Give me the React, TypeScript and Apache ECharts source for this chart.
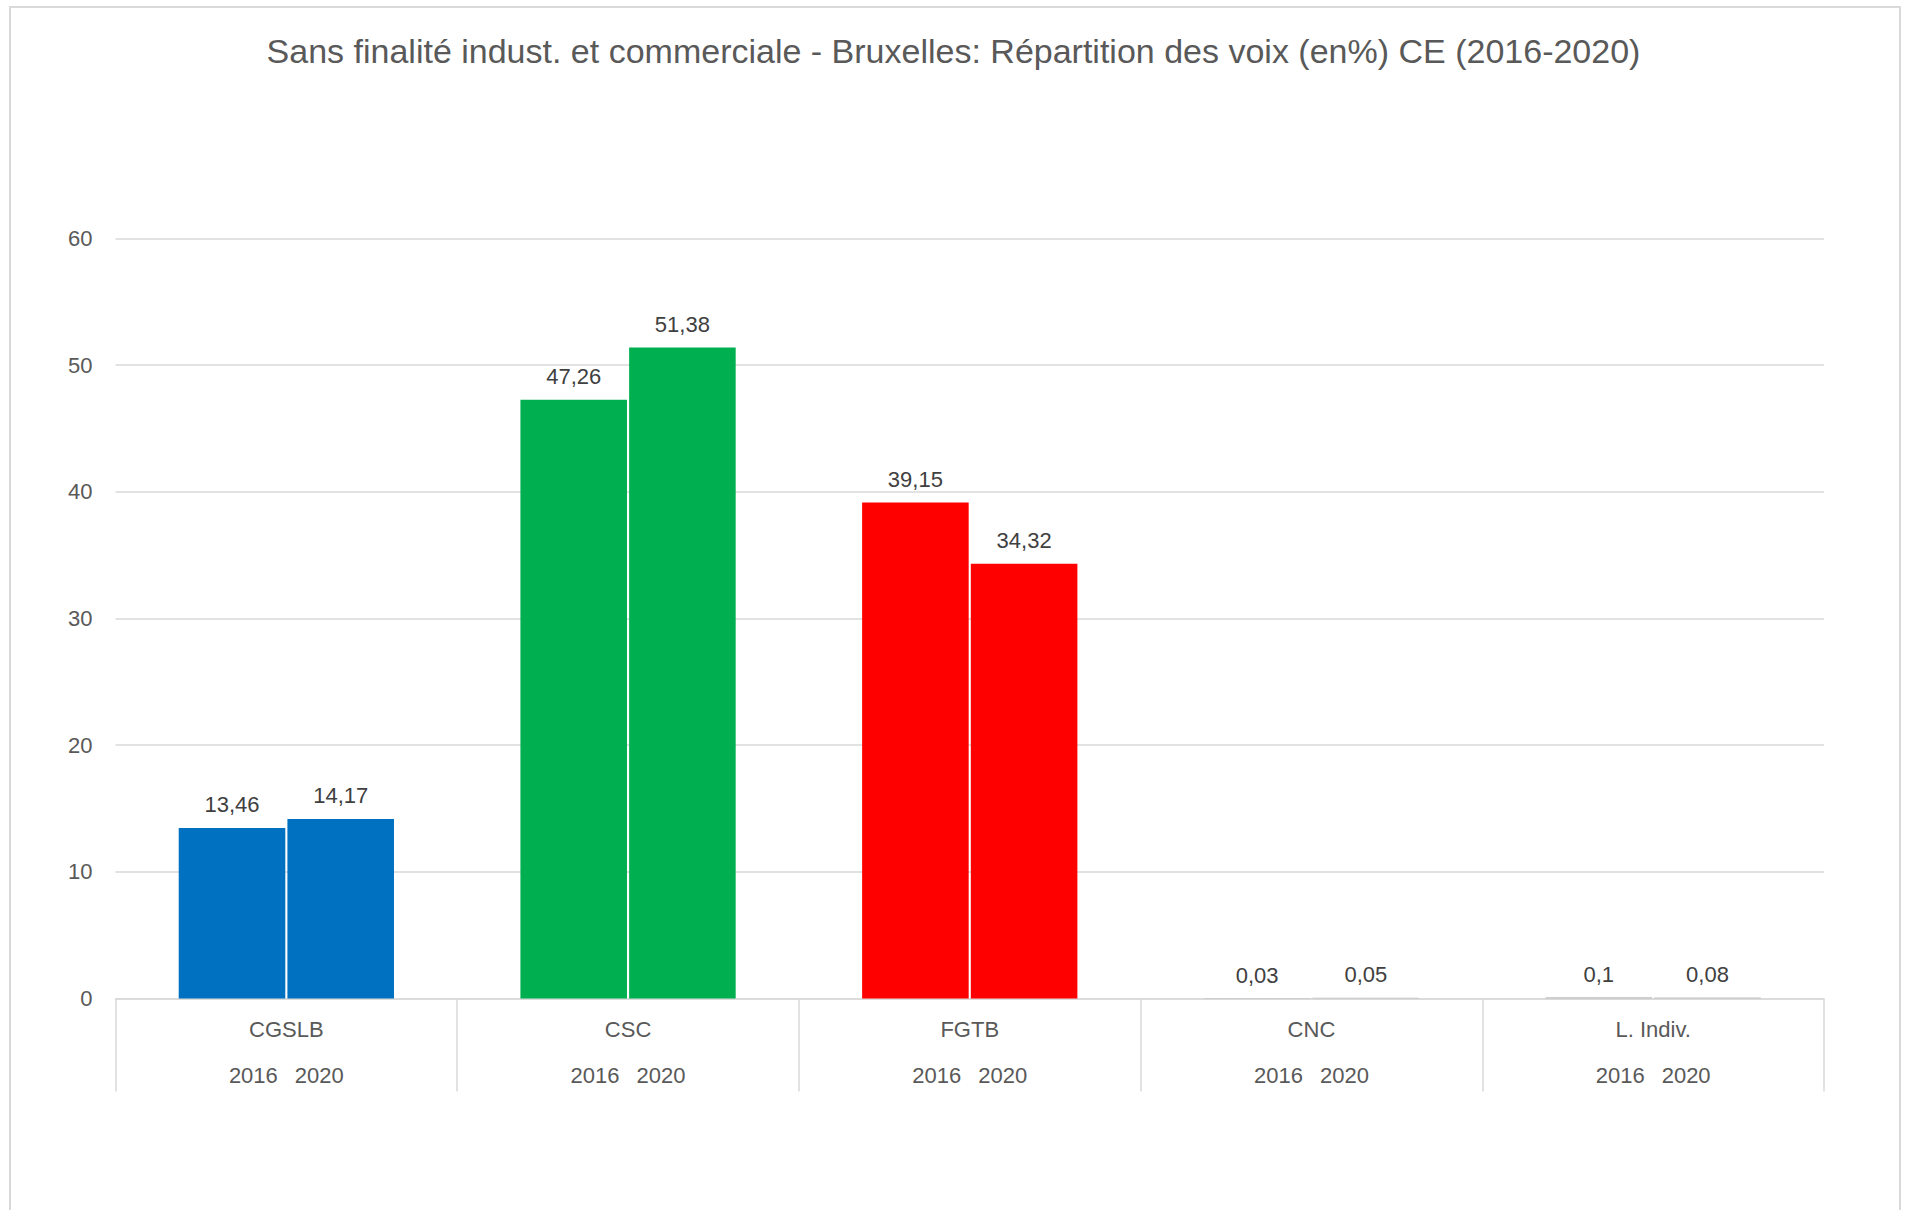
import React, { useEffect, useRef } from "react";
import * as echarts from "echarts";

const categories = ["CGSLB", "CSC", "FGTB", "CNC", "L. Indiv."];
const years = ["2016", "2020"];
const values2016 = [13.46, 47.26, 39.15, 0.03, 0.1];
const values2020 = [14.17, 51.38, 34.32, 0.05, 0.08];
const categoryColors = ["#0070C0", "#00B050", "#FF0000", "#BFBFBF", "#BFBFBF"];
const yTicks = { min: 0, max: 60, interval: 10 };
const title = "Sans finalité indust. et commerciale - Bruxelles: Répartition des voix (en%) CE (2016-2020)";

const FONT = "'Liberation Sans', Arial, sans-serif";

export default function App() {
  const ref = useRef<HTMLDivElement>(null);
  useEffect(() => {
    document.body.style.margin = "0";
    if (!ref.current) return;
    const chart = echarts.init(ref.current, null, { renderer: "svg" });
    const fmt = (v: number) => String(v).replace(".", ",");
    const mkSeries = (name: string, data: number[]) => ({
      name,
      type: "bar",
      data,
      barGap: "2%",
      barCategoryGap: "37%",
      itemStyle: {
        color: (p: any) => categoryColors[p.dataIndex],
      },
      label: {
        show: true,
        position: "top",
        distance: 12,
        color: "#404040",
        fontSize: 22,
        fontFamily: FONT,
        formatter: (p: any) => fmt(p.value),
      },
    });
    chart.setOption({
      animation: false,
      backgroundColor: "#FFFFFF",
      textStyle: { fontFamily: FONT },
      title: {
        text: title,
        left: "center",
        top: 29,
        textStyle: { color: "#595959", fontSize: 34, fontWeight: "normal", fontFamily: FONT },
      },
      graphic: [
        {
          type: "rect",
          shape: { x: 10, y: 7, width: 1890, height: 1240 },
          style: { fill: "none", stroke: "#D9D9D9", lineWidth: 2 },
          silent: true,
          z: -1,
        },
      ],
      grid: { left: 115.5, right: 83, top: 238.4, bottom: 211.5, containLabel: false },
      xAxis: {
        type: "category",
        data: categories,
        boundaryGap: true,
        axisLine: { show: true, lineStyle: { color: "#D9D9D9", width: 1.5 } },
        axisTick: { show: true, interval: 0, length: 93, lineStyle: { color: "#D9D9D9", width: 1.5 } },
        axisLabel: {
          interval: 0,
          margin: 8,
          color: "#595959",
          fontSize: 22,
          fontFamily: FONT,
          lineHeight: 46,
          formatter: (name: string) => `{c|${name}}\n{y|${years[0]}}{s|}{y|${years[1]}}`,
          rich: {
            c: { fontSize: 22, color: "#595959", lineHeight: 46, fontFamily: FONT },
            y: { fontSize: 22, color: "#595959", lineHeight: 46, width: 48, align: "center", fontFamily: FONT },
            s: { width: 18, lineHeight: 46 },
          },
        },
        splitLine: { show: false },
      },
      yAxis: {
        type: "value",
        min: yTicks.min,
        max: yTicks.max,
        interval: yTicks.interval,
        axisLine: { show: false },
        axisTick: { show: false },
        axisLabel: { color: "#595959", fontSize: 22, margin: 23, fontFamily: FONT },
        splitLine: { lineStyle: { color: "#D9D9D9", width: 1.5 } },
      },
      series: [mkSeries(years[0], values2016), mkSeries(years[1], values2020)],
    });
    return () => chart.dispose();
  }, []);
  return <div ref={ref} style={{ width: 1907, height: 1210 }} />;
}
